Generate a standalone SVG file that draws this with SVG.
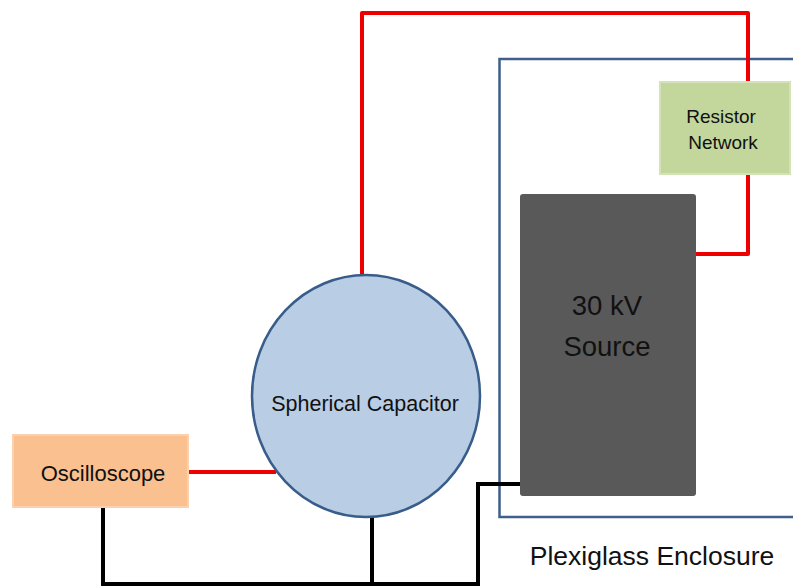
<svg xmlns="http://www.w3.org/2000/svg" width="793" height="588" viewBox="0 0 793 588">
<style>
text{font-family:"Liberation Sans","DejaVu Sans",sans-serif;fill:#111;text-anchor:middle}
.red{fill:none;stroke:#ee0000;stroke-width:4;stroke-linejoin:round}
.blk{fill:none;stroke:#000;stroke-width:4;stroke-linejoin:miter}
</style>
<rect width="793" height="588" fill="#fff"/>
<g id="enclosure">
<rect x="499.5" y="59" width="310" height="458" fill="none" stroke="#3e5f8a" stroke-width="2.5"/>
<text x="652" y="565" font-size="26.5">Plexiglass Enclosure</text>
</g>
<g id="connectors">
<polyline class="red" points="362,275 362,13 748,13 748,82"/>
<polyline class="red" points="748,174 748,254 695,254"/>
<line class="red" x1="188" y1="472" x2="276" y2="472"/>
<polyline class="blk" points="103,507 103,584 478,584 478,484 521,484"/>
<line class="blk" x1="372" y1="517" x2="372" y2="584"/>
</g>
<g id="resistor">
<rect x="660" y="82" width="130" height="92" fill="#c3d69b" stroke="#d4e2b8" stroke-width="2"/>
<text x="721" y="123" font-size="19">Resistor</text>
<text x="723" y="149" font-size="19">Network</text>
</g>
<g id="source">
<rect x="520" y="194" width="176" height="302" rx="3" fill="#595959"/>
<text x="607" y="315" font-size="27.5">30 kV</text>
<text x="607" y="356" font-size="27.5">Source</text>
</g>
<g id="capacitor">
<ellipse cx="366" cy="396" rx="114" ry="121" fill="#b9cde5" stroke="#385d8a" stroke-width="2.5"/>
<text x="365" y="411" font-size="21.5">Spherical Capacitor</text>
</g>
<g id="oscilloscope">
<rect x="13" y="435" width="175" height="72" fill="#fac090" stroke="#fbd0ac" stroke-width="2"/>
<text x="103" y="481" font-size="22">Oscilloscope</text>
</g>
</svg>
